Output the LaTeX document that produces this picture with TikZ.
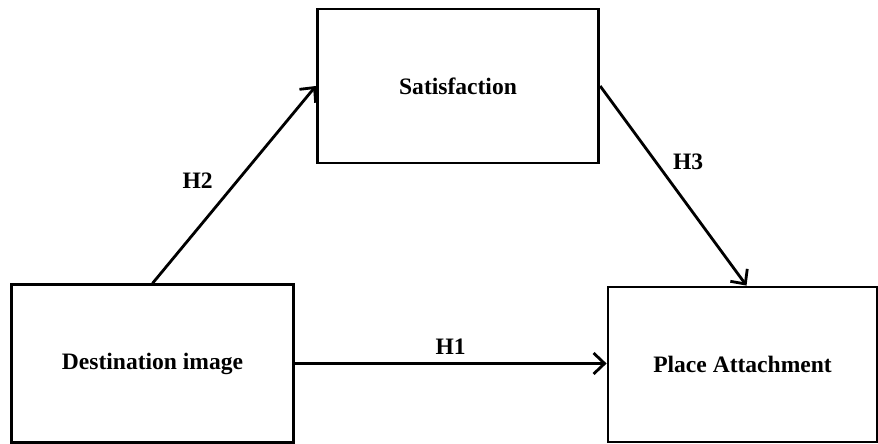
\documentclass[tikz,border=0pt]{standalone}
\usepackage{fontspec}
\setmainfont{Liberation Serif}
\usetikzlibrary{positioning, arrows.meta}

\begin{document}
\begin{tikzpicture}[
	construct/.style={
		rectangle,
		draw=black,
		line width=1.6pt,
		fill=white,
		align=center,
		font=\bfseries\fontsize{13.4}{15}\selectfont
	},
	hyp/.style={
		font=\bfseries\fontsize{13.4}{15}\selectfont
	},
	link/.style={
		line width=1.6pt,
		-{Straight Barb[length=2.2mm, width=4.2mm, line width=1.6pt]}
	}
	]
	\useasboundingbox (0,0) rectangle (17.56,-8.86);

	% the three constructs
	\node[construct, minimum width=5.63cm, minimum height=3.15cm] (Destination) at (3.05,-7.27) {Destination image};
	\node[construct, minimum width=5.63cm, minimum height=3.08cm] (Satisfaction) at (9.16,-1.72) {Satisfaction};
	\node[construct, minimum width=5.38cm, minimum height=3.10cm] (Attachment) at (14.85,-7.29) {Place Attachment};

	% hypotheses
	\draw[link] (Destination.east) -- (Destination.east -| Attachment.west) node[hyp, midway, above=1pt] {H1};
	\draw[link] (Destination.north) -- (Satisfaction.west) node[hyp, pos=0.52, left=0.35cm] {H2};
	\draw[link] (Satisfaction.east) -- ([xshift=0.08cm]Attachment.north) node[hyp, pos=0.38, right=0.2cm] {H3};
\end{tikzpicture}
\end{document}
